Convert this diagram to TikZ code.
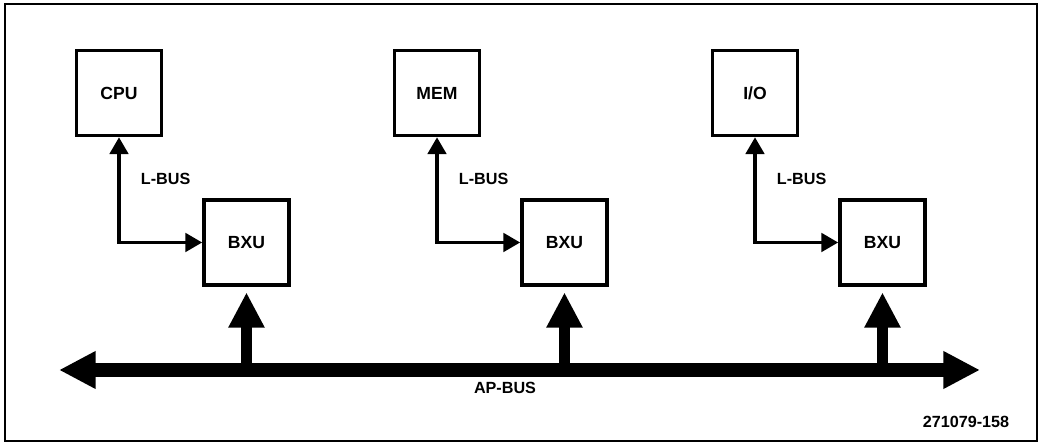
\documentclass[tikz,border=0pt]{standalone}
\usepackage{fontspec}
\setmainfont{Liberation Sans}
\usetikzlibrary{
arrows.meta,
positioning
}
\tikzset{
unitbox/.style={draw=black, line width=2.6pt, minimum size=2.12cm, inner sep=0pt,
  font=\fontsize{12.5}{14}\selectfont\bfseries},
buslabel/.style={inner sep=0pt, font=\fontsize{11.5}{13}\selectfont\bfseries},
lbusarrow/.style={{Triangle[length=12pt,width=13pt]}-{Triangle[length=12pt,width=13pt]},
  line width=2.8pt},
upbusarrow/.style={-{Triangle[length=25pt,width=24pt]}, line width=8.5pt, shorten >=4pt},
apbusarrow/.style={{Triangle[length=26pt,width=25pt]}-{Triangle[length=26pt,width=25pt]},
  line width=10pt}
}

\begin{document}
\begin{tikzpicture}[x=0.025cm, y=0.025cm, node distance=1.525cm and 0.975cm]
\useasboundingbox (0,0) rectangle (1042,446);
\draw[line width=1.6pt] (5,5) rectangle (1037,442);

\node[unitbox] (cpu) at (119,353) {CPU};
\node[unitbox] (mem) at (437,353) {MEM};
\node[unitbox] (io) at (755,353) {I/O};
\node[unitbox, below right=of cpu] (bxucpu) {BXU};
\node[unitbox, below right=of mem] (bxumem) {BXU};
\node[unitbox, below right=of io] (bxuio) {BXU};

\coordinate (busL) at (59,76);
\coordinate (busR) at (980,76);
\node[buslabel] (apbus) at (505,58) {AP-BUS};
\node[buslabel] (figno) at (966,24) {271079-158};

\draw[lbusarrow] (cpu.south) |- node[buslabel, pos=0.2, right=5mm] {L-BUS} (bxucpu.west);
\draw[lbusarrow] (mem.south) |- node[buslabel, pos=0.2, right=5mm] {L-BUS} (bxumem.west);
\draw[lbusarrow] (io.south) |- node[buslabel, pos=0.2, right=5mm] {L-BUS} (bxuio.west);

\draw[apbusarrow] (busL) -- (busR);
\draw[upbusarrow] (bxucpu.south |- busL) -- (bxucpu.south);
\draw[upbusarrow] (bxumem.south |- busL) -- (bxumem.south);
\draw[upbusarrow] (bxuio.south |- busL) -- (bxuio.south);
\end{tikzpicture}
\end{document}
